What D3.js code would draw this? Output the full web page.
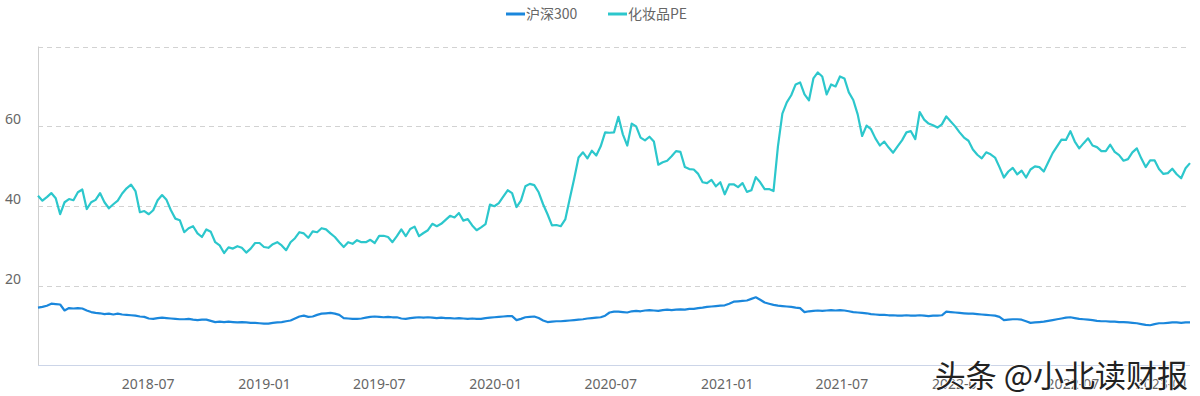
<!DOCTYPE html>
<html>
<head>
<meta charset="utf-8">
<script src="https://cdn.jsdelivr.net/npm/d3@7"></script>
<style>
  body { margin: 0; background: #fff; }
  svg text { font-family: "Noto Sans", "Noto Sans CJK SC", sans-serif; }
</style>
</head>
<body>
<div id="chart"></div>
<script>
// weekly samples, first one on 2018-01-08
const startDate = "2018-01-08"
const stepDays = 7

const hs300 = [
  14.6, 14.8, 15.1, 15.6, 15.5, 15.4, 13.9, 14.5, 14.4, 14.5, 14.4, 13.9, 13.5, 13.3, 13.2, 13.0, 13.1, 12.9, 13.1, 12.9,
  12.8, 12.7, 12.6, 12.4, 12.3, 11.9, 11.8, 12.0, 12.1, 12.0, 11.9, 11.8, 11.7, 11.7, 11.8, 11.6, 11.5, 11.6, 11.6, 11.3,
  11.0, 11.1, 11.0, 11.1, 11.0, 10.9, 11.0, 10.9, 10.8, 10.8, 10.7, 10.6, 10.6, 10.8, 10.9, 11.0, 11.2, 11.4, 11.9, 12.4,
  12.6, 12.3, 12.4, 12.8, 13.1, 13.2, 13.3, 13.1, 12.8, 12.0, 11.9, 11.8, 11.8, 11.9, 12.1, 12.3, 12.4, 12.3, 12.2, 12.3,
  12.2, 12.2, 11.9, 11.8, 12.0, 12.1, 12.2, 12.1, 12.2, 12.1, 12.0, 12.1, 12.0, 12.0, 11.9, 12.0, 11.9, 11.8, 11.9, 11.8,
  11.8, 12.0, 12.1, 12.2, 12.3, 12.4, 12.5, 12.5, 11.5, 11.8, 12.2, 12.3, 12.4, 12.0, 11.4, 11.0, 11.1, 11.2, 11.2, 11.3,
  11.4, 11.5, 11.6, 11.7, 11.9, 12.0, 12.1, 12.2, 12.6, 13.4, 13.6, 13.6, 13.5, 13.4, 13.7, 13.8, 13.7, 13.9, 14.0, 13.9,
  13.8, 14.0, 14.1, 14.0, 14.1, 14.2, 14.1, 14.3, 14.3, 14.5, 14.6, 14.8, 14.9, 15.0, 15.1, 15.2, 15.6, 16.1, 16.2, 16.3,
  16.4, 16.8, 17.2, 16.6, 15.9, 15.6, 15.3, 15.1, 15.0, 14.9, 14.8, 14.6, 14.5, 13.5, 13.7, 13.8, 13.9, 13.8, 13.9, 14.0,
  13.9, 14.0, 13.9, 13.7, 13.5, 13.4, 13.3, 13.2, 13.0, 12.9, 12.8, 12.8, 12.7, 12.7, 12.6, 12.6, 12.7, 12.6, 12.6, 12.7,
  12.6, 12.5, 12.6, 12.6, 12.7, 13.6, 13.5, 13.4, 13.3, 13.2, 13.1, 13.1, 13.0, 12.9, 12.8, 12.7, 12.6, 12.3, 11.5, 11.6,
  11.7, 11.7, 11.6, 11.2, 10.8, 10.9, 11.0, 11.1, 11.3, 11.5, 11.7, 11.9, 12.1, 12.2, 12.0, 11.8, 11.7, 11.6, 11.5, 11.3,
  11.2, 11.2, 11.1, 11.1, 11.0, 11.0, 10.9, 10.8, 10.7, 10.5, 10.3, 10.2, 10.5, 10.7, 10.7, 10.8, 10.9, 10.9, 10.8, 10.9,
  10.9
]

const cosmeticsPE = [
  42.6, 41.4, 42.3, 43.3, 42.0, 38.0, 41.0, 41.8, 41.5, 43.5, 44.2, 39.3, 41.0, 41.6, 43.3, 41.0, 39.5, 40.5, 41.4, 43.2,
  44.5, 45.4, 43.8, 38.5, 38.8, 38.0, 39.0, 41.5, 42.8, 41.6, 39.0, 36.9, 36.5, 33.5, 34.5, 35.0, 33.2, 32.3, 34.2, 33.6,
  31.0, 30.2, 28.3, 29.7, 29.4, 30.0, 29.6, 28.4, 29.4, 30.8, 30.8, 29.8, 29.6, 30.5, 31.0, 30.2, 29.0, 31.0, 32.0, 33.5,
  33.2, 32.1, 33.7, 33.5, 34.5, 34.2, 33.2, 32.3, 31.0, 29.8, 31.0, 30.6, 31.5, 31.0, 31.0, 31.6, 30.8, 32.6, 32.6, 32.3,
  31.0, 32.5, 34.2, 32.5, 34.3, 34.9, 32.5, 33.3, 34.0, 35.6, 35.0, 35.6, 36.6, 37.6, 37.2, 38.3, 36.4, 36.8, 35.2, 34.0,
  34.7, 35.5, 40.4, 40.0, 40.8, 42.4, 44.0, 43.3, 39.8, 41.4, 45.0, 45.6, 45.3, 43.5, 40.5, 38.0, 35.2, 35.3, 35.0, 36.7,
  41.8, 46.8, 52.2, 53.5, 52.0, 53.9, 52.7, 55.0, 58.5, 58.4, 58.5, 62.4, 58.0, 55.2, 60.7, 60.0, 57.2, 56.5, 57.4, 56.2,
  50.4, 51.0, 51.4, 52.5, 53.8, 53.6, 49.8, 49.3, 49.2, 48.1, 46.0, 45.8, 46.6, 45.0, 46.0, 43.0, 45.5, 45.5, 44.8, 45.8,
  43.6, 44.0, 47.3, 46.0, 44.3, 44.3, 43.8, 55.0, 63.2, 66.0, 67.8, 70.5, 71.0, 68.0, 66.5, 72.0, 73.5, 72.5, 68.0, 70.5,
  70.0, 72.5, 72.0, 68.5, 66.6, 63.0, 57.6, 60.2, 59.3, 57.0, 55.2, 56.2, 54.7, 53.4, 55.0, 56.5, 58.5, 58.8, 56.8, 63.6,
  61.7, 60.7, 60.3, 59.7, 60.5, 62.5, 61.2, 60.0, 58.5, 57.2, 56.4, 54.2, 52.9, 52.0, 53.5, 53.0, 52.2, 49.8, 47.2, 48.7,
  49.6, 48.0, 48.9, 47.2, 49.2, 50.0, 49.8, 48.7, 51.0, 53.3, 55.0, 56.7, 56.6, 58.8, 56.2, 54.5, 55.8, 57.0, 55.2, 54.8,
  53.8, 53.8, 55.4, 53.6, 52.8, 51.4, 51.8, 53.5, 54.5, 52.0, 49.8, 51.5, 51.5, 49.3, 48.1, 48.3, 49.4, 48.0, 47.0, 49.5,
  50.8
]

const yTicks = [20, 40, 60, 80]
const xTickDates = ["2018-07-01", "2019-01-01", "2019-07-01", "2020-01-01", "2020-07-01",
  "2021-01-01", "2021-07-01", "2022-01-01", "2022-07-01", "2023-01-01"]

const seriesNames = ["沪深300", "化妆品PE"]
const seriesColors = ["#1a87dc", "#2cc7cc"]

const width = 1200
const height = 396
const plotLeft = 38, plotRight = 1190, plotTop = 46.5, plotBottom = 366

const parse = d3.timeParse("%Y-%m-%d")
const start = parse(startDate)
const dates = hs300.map((_, i) => d3.timeDay.offset(start, i * stepDays))

const svg = d3.select("#chart").append("svg")
    .attr("width", width)
    .attr("height", height)
    .attr("viewBox", [0, 0, width, height])

const x = d3.scaleTime()
    .domain([dates[0], dates[dates.length - 1]])
    .range([plotLeft, plotRight])

const y = d3.scaleLinear()
    .domain([0, 80])
    .range([plotBottom, plotTop])

// dashed grid
svg.append("g")
    .selectAll("line")
    .data(yTicks)
    .join("line")
    .attr("x1", plotLeft)
    .attr("x2", plotRight)
    .attr("y1", d => Math.round(y(d)) + 0.5)
    .attr("y2", d => Math.round(y(d)) + 0.5)
    .attr("stroke", "#d2d2d2")
    .attr("stroke-dasharray", "5,4")

// y labels (80 is not labelled in the original)
svg.append("g")
    .selectAll("text")
    .data(yTicks.filter(d => d < 80))
    .join("text")
    .attr("x", 21)
    .attr("y", d => y(d) - 2)
    .attr("text-anchor", "end")
    .attr("fill", "#666")
    .attr("font-size", 14)
    .text(d => d)

// axis lines
svg.append("line")
    .attr("x1", plotLeft + 0.5).attr("x2", plotLeft + 0.5)
    .attr("y1", plotTop).attr("y2", plotBottom)
    .attr("stroke", "#cfcfcf")
svg.append("line")
    .attr("x1", plotLeft).attr("x2", plotRight)
    .attr("y1", plotBottom - 0.5).attr("y2", plotBottom - 0.5)
    .attr("stroke", "#ccd5e8")

// x labels, the last one is kept inside the plot
const fmt = d3.timeFormat("%Y-%m")
svg.append("g")
    .selectAll("text")
    .data(xTickDates.map(parse))
    .join("text")
    .attr("x", d => Math.min(x(d), plotRight - 28))
    .attr("y", 389)
    .attr("text-anchor", "middle")
    .attr("fill", "#666")
    .attr("font-size", 14)
    .text(d => fmt(d))

// lines
const series = [hs300, cosmeticsPE]
const line = d3.line()
    .x((d, i) => x(dates[i]))
    .y(d => y(d))

svg.append("g")
    .attr("fill", "none")
    .attr("stroke-width", 2.2)
    .attr("stroke-linejoin", "round")
    .selectAll("path")
    .data(series)
    .join("path")
    .attr("stroke", (d, i) => seriesColors[i])
    .attr("d", line)

// legend
const legend = svg.append("g")
    .selectAll("g")
    .data(seriesNames)
    .join("g")
    .attr("transform", (d, i) => `translate(${[506, 608][i]},14)`)
legend.append("line")
    .attr("x1", 0).attr("x2", 19)
    .attr("stroke", (d, i) => seriesColors[i])
    .attr("stroke-width", 3)
legend.append("text")
    .attr("x", 20)
    .attr("dy", "0.35em")
    .attr("fill", "#666")
    .attr("font-size", 14)
    .style("font-family", '"Noto Sans CJK SC", sans-serif')
    .text(d => d)

// watermark
svg.append("text")
    .attr("x", 1188)
    .attr("y", 387)
    .attr("text-anchor", "end")
    .attr("font-size", 31)
    .style("font-family", '"Noto Sans CJK SC", sans-serif')
    .attr("fill", "#222")
    .attr("stroke", "#fff")
    .attr("stroke-width", 1.5)
    .attr("paint-order", "stroke")
    .text("头条 @小北读财报")
</script>
</body>
</html>
